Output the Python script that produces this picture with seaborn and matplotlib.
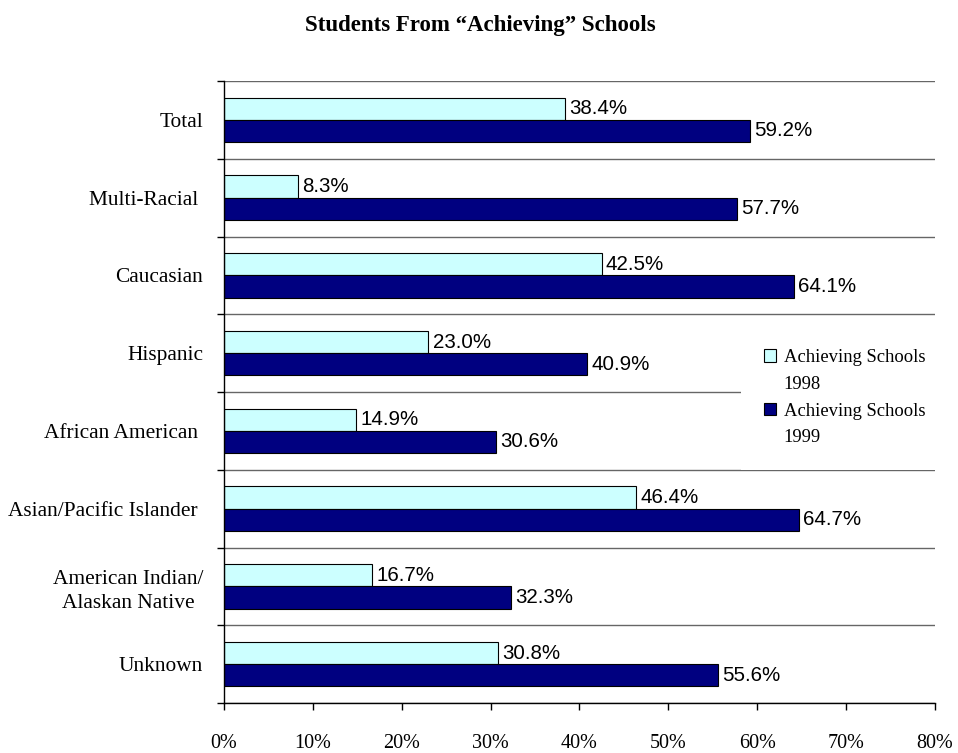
import numpy as np
import pandas as pd
import matplotlib
matplotlib.use("Agg")
import matplotlib.pyplot as plt
from matplotlib.patches import Patch
from matplotlib.ticker import FixedLocator, NullFormatter, FuncFormatter
import seaborn as sns

# Share of students attending "achieving" schools, by group
groups = ["Total", "Multi-Racial ", "Caucasian", "Hispanic", "African American ",
          "Asian/Pacific Islander ", "American Indian/\nAlaskan Native", "Unknown"]
pct_1998 = [38.4, 8.3, 42.5, 23.0, 14.9, 46.4, 16.7, 30.8]
pct_1999 = [59.2, 57.7, 64.1, 40.9, 30.6, 64.7, 32.3, 55.6]
years = ["1998", "1999"]
legend_labels = ["Achieving Schools", "1998", "Achieving Schools", "1999"]
x_ticks = [0, 10, 20, 30, 40, 50, 60, 70, 80]

LIGHT = "#CCFFFF"
NAVY = "#000080"
SERIF = "Liberation Serif"
SANS = "Liberation Sans"

df = pd.DataFrame({
    "group": groups * 2,
    "year": [years[0]] * len(groups) + [years[1]] * len(groups),
    "pct": pct_1998 + pct_1999,
})

fig = plt.figure(figsize=(9.58, 7.53), dpi=100)
ax = fig.add_axes([0.2338, 0.0664, 0.976 - 0.2338, 0.8924 - 0.0664])

sns.barplot(data=df, y="group", x="pct", hue="year", order=groups,
            hue_order=years, palette=[LIGHT, NAVY], saturation=1,
            width=0.57, edgecolor="black", linewidth=0.8, orient="h",
            errorbar=None, legend=False, ax=ax, zorder=3)

for cont in ax.containers:
    ax.bar_label(cont, fmt="%.1f%%", padding=3, fontsize=14.8, family=SANS,
                 color="black")

ax.set_xlim(0, 80)
ax.set_ylim(len(groups) - 0.5, -0.5)

# category boundaries carry the outward ticks and the separator lines
bounds = np.arange(-0.5, len(groups), 1.0)
ax.yaxis.set_major_locator(FixedLocator(bounds))
ax.yaxis.set_major_formatter(NullFormatter())
ax.yaxis.set_minor_locator(FixedLocator(np.arange(len(groups))))
ax.yaxis.set_minor_formatter(FuncFormatter(lambda v, p: groups[int(round(v))]))
ax.tick_params(axis="y", which="major", direction="out", length=5, width=1,
               color="black")
ax.tick_params(axis="y", which="minor", length=0, pad=15, labelsize=15.4)
for lab in ax.yaxis.get_minorticklabels():
    lab.set_family(SERIF)
    lab.set_multialignment("center")
    lab.set_linespacing(1.4)

ax.xaxis.set_major_locator(FixedLocator(x_ticks))
ax.xaxis.set_major_formatter(FuncFormatter(lambda v, p: f"{int(v)}%"))
ax.tick_params(axis="x", direction="out", length=5, width=1, pad=17,
               labelsize=14.5)
for lab in ax.get_xticklabels():
    lab.set_family(SERIF)

ax.set_xlabel("")
ax.set_ylabel("")
ax.grid(axis="y", which="major", color="#666666", linewidth=1, zorder=1)
ax.grid(axis="x", visible=False)
ax.set_axisbelow(True)
for side in ("top", "right"):
    ax.spines[side].set_visible(False)
for side in ("left", "bottom"):
    ax.spines[side].set_color("black")
    ax.spines[side].set_linewidth(1)
    ax.spines[side].set_zorder(4)

handles = [
    Patch(facecolor=LIGHT, edgecolor="black", linewidth=0.8),
    Patch(facecolor="none", edgecolor="none"),
    Patch(facecolor=NAVY, edgecolor="black", linewidth=0.8),
    Patch(facecolor="none", edgecolor="none"),
]
leg = fig.legend(handles, legend_labels, loc="center left",
                 bbox_to_anchor=(0.7735, 0.4718), borderaxespad=0,
                 frameon=True, fancybox=False, facecolor="white",
                 edgecolor="none", framealpha=1, borderpad=1.25,
                 labelspacing=0.52, handlelength=0.65, handleheight=0.65,
                 handletextpad=0.4, prop={"family": SERIF, "size": 13.4})
leg.set_zorder(10)

fig.text(0.501, 1 - 26 / 753, "Students From \u201cAchieving\u201d Schools",
         ha="center", va="center", fontsize=16.5, fontweight="bold",
         family=SERIF)

fig.savefig("out.png", dpi=100, facecolor="white")
